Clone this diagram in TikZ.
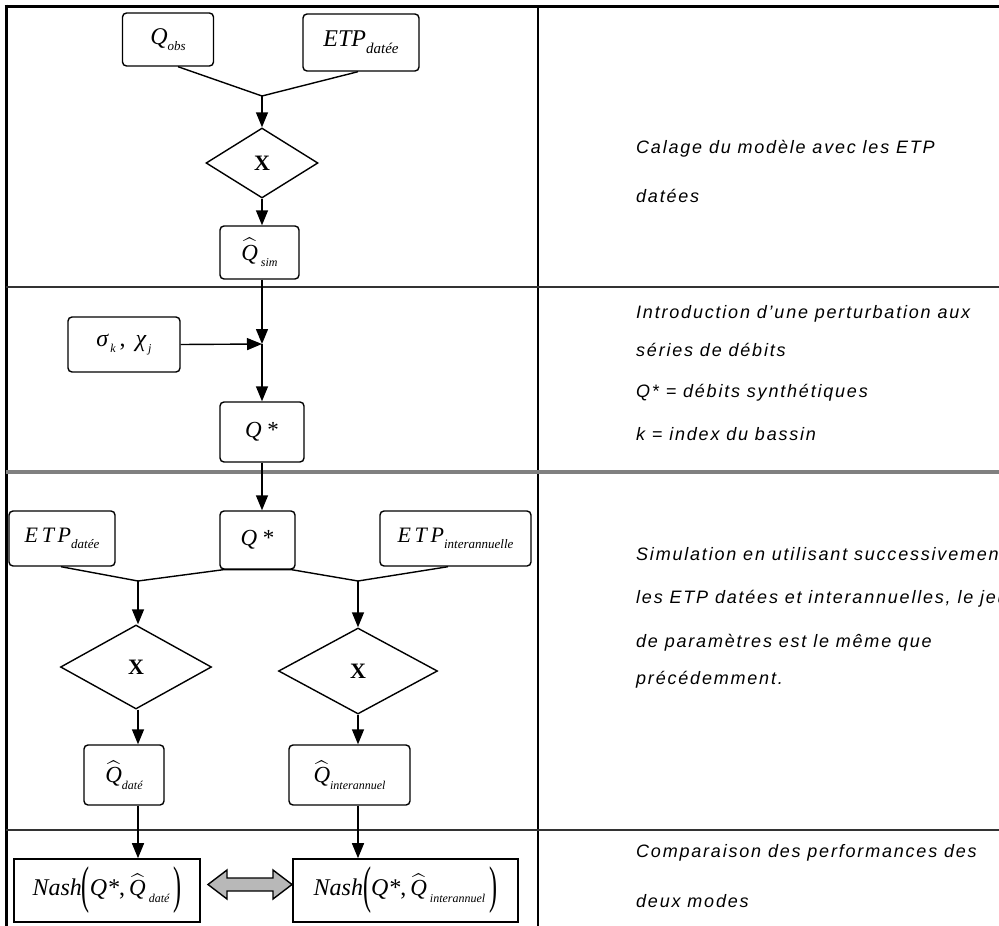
\documentclass[tikz,border=0pt]{standalone}
\usepackage{graphicx}
\usepackage{fontspec}
\setmainfont{Liberation Serif}
\newfontfamily\descfont{Liberation Sans}[LetterSpace=10]
\usetikzlibrary{arrows.meta,shapes.geometric}
\newcommand\lsub[2][13]{\raisebox{-0.6ex}{\fontsize{#1}{#1}\selectfont\itshape #2}}
\newcommand\qhat{\scalebox{2.3}{$\widehat{\mbox{\fontsize{10}{12}\selectfont\itshape Q}}$}}
\newcommand\lpar{\raisebox{-7pt}{\scalebox{1}[2.15]{(}}}
\newcommand\rpar{\raisebox{-7pt}{\scalebox{1}[2.15]{)}}}
\begin{document}
\begin{tikzpicture}[x=1pt,y=-1pt,
  rbox/.style={draw, line width=1.4pt, rounded corners=4pt, inner sep=0pt, font=\fontsize{24}{28}\selectfont},
  sbox/.style={draw, line width=1.6pt, inner sep=0pt, font=\fontsize{24}{28}\selectfont},
  dia/.style={draw, diamond, line width=1.4pt, inner sep=0pt, font=\fontsize{22}{26}\selectfont\bfseries},
  con/.style={line width=1.4pt},
  arr/.style={con, -{Triangle[length=15pt,width=12pt]}},
  desc/.style={anchor=base west, inner sep=0pt, font=\fontsize{18}{20}\selectfont\descfont\itshape},
]
\useasboundingbox (0,0) rectangle (999,926);
% table
\draw[line width=3pt] (4.5,6) -- (999,6);
\draw[line width=3pt] (6,4.5) -- (6,926);
\draw[line width=2pt] (538,6) -- (538,926);
\draw[line width=1.5pt, black!80] (6,287) -- (999,287);
\draw[line width=4pt, black!50] (6,472) -- (999,472);
\draw[line width=1.5pt, black!80] (6,830) -- (999,830);

% row 1
\node[rbox, minimum width=91pt, minimum height=53pt] (qobs) at (168,39.5) {{\itshape Q}\lsub{obs}};
\node[rbox, minimum width=116pt, minimum height=57pt] (etpd1) at (361,42.5) {{\itshape ETP}\lsub[15]{datée}};
\coordinate (j1) at (262,96);
\node[dia, minimum width=112pt, minimum height=70pt] (dia1) at (262,163) {X};
\node[rbox, minimum width=79pt, minimum height=53pt] (qsim) at (259.5,252.5) {\qhat\lsub[12]{\ sim}};
\draw[con] ([xshift=10pt]qobs.south) -- (j1);
\draw[con] ([xshift=-3pt]etpd1.south) -- (j1);
\draw[arr] (j1) -- (dia1.north);
\draw[arr] (dia1.south) -- (dia1.south |- qsim.north);

% row 2
\node[rbox, minimum width=112pt, minimum height=55pt] (sigma) at (124,344.5) {{\itshape σ}\lsub[12]{\,k}\,,\ \,{\itshape χ}\lsub[12]{\,j}};
\coordinate (j2) at (262,344);
\node[rbox, minimum width=84pt, minimum height=60pt, font=\fontsize{23}{26}\selectfont] (qs1) at (262,432) {{\itshape Q} *};
\draw[arr] (dia1.south |- qsim.south) -- (j2);
\draw[arr] (sigma.east) -- (j2);
\draw[arr] (j2) -- (qs1.north);

% row 3
\node[rbox, minimum width=75pt, minimum height=58pt, font=\fontsize{23}{26}\selectfont] (qs2) at (257.5,540) {{\itshape Q} *};
\node[rbox, minimum width=106pt, minimum height=55pt, font=\fontsize{22}{26}\selectfont] (etpd2) at (62,538.5) {{\itshape E\,T\,P}\lsub{datée}};
\node[rbox, minimum width=151pt, minimum height=55pt, font=\fontsize{22}{26}\selectfont] (etpi) at (455.5,538.5) {{\itshape E\,T\,P}\lsub[13]{interannuelle}};
\draw[arr] (qs1.south -| j2) -- (qs2.north -| j2);
\coordinate (j3) at (138,581);
\coordinate (j4) at (358,581);
\draw[con] ([xshift=-1pt]etpd2.south) -- (j3) -- ([xshift=4pt]qs2.south west) -- ([xshift=-4pt]qs2.south east) -- (j4) -- ([xshift=-7.5pt]etpi.south);
\node[dia, minimum width=151pt, minimum height=84pt] (dia2) at (136,667) {X};
\node[dia, minimum width=159pt, minimum height=86pt] (dia3) at (358,671) {X};
\draw[arr] (j3) -- (j3 |- dia2.north);
\draw[arr] (j4) -- (dia3.north);
\node[rbox, minimum width=80pt, minimum height=60pt] (qdate) at (124,775) {\qhat\lsub[12]{daté}};
\node[rbox, minimum width=121pt, minimum height=60pt] (qint) at (349.5,775) {\qhat\lsub[12]{interannuel}};
\draw[arr] (j3 |- dia2.south) -- (j3 |- qdate.north);
\draw[arr] (dia3.south) -- (j4 |- qint.north);

% row 4
\node[sbox, minimum width=186pt, minimum height=63pt] (nash1) at (107,890.5)
  {{\itshape Nash}\lpar{\itshape Q*},\,\qhat\lsub[12]{\ daté}\,\rpar};
\node[sbox, minimum width=225pt, minimum height=63pt] (nash2) at (405.5,890.5)
  {{\itshape Nash}\lpar{\itshape Q*},\,\qhat\lsub[12]{\ interannuel}\,\rpar};
\draw[arr] (j3 |- qdate.south) -- (j3 |- nash1.north);
\draw[arr] (j4 |- qint.south) -- (j4 |- nash2.north);
\draw[line width=1.4pt, fill=black!28, line join=miter]
  (208,884.5) -- (227,870) -- (227,878) -- (273,878) -- (273,870) -- (292,884.5)
  -- (273,899) -- (273,891) -- (227,891) -- (227,899) -- cycle;

% descriptions
\node[desc] (t1a) at (636,153) {Calage du modèle avec les ETP};
\node[desc] (t1b) at (636,202) {datées};
\node[desc] (t2a) at (636,318) {Introduction d’une perturbation aux};
\node[desc] (t2b) at (636,356) {séries de débits};
\node[desc] (t2c) at (636,397) {Q* = débits synthétiques};
\node[desc] (t2d) at (636,440) {k = index du bassin};
\node[desc] (t3a) at (636,560) {Simulation en utilisant successivement};
\node[desc] (t3b) at (636,603) {les ETP datées et interannuelles, le jeu};
\node[desc] (t3c) at (636,647) {de paramètres est le même que};
\node[desc] (t3d) at (636,684) {précédemment.};
\node[desc] (t4a) at (636,857) {Comparaison des performances des};
\node[desc] (t4b) at (636,907) {deux modes};
\end{tikzpicture}
\end{document}
